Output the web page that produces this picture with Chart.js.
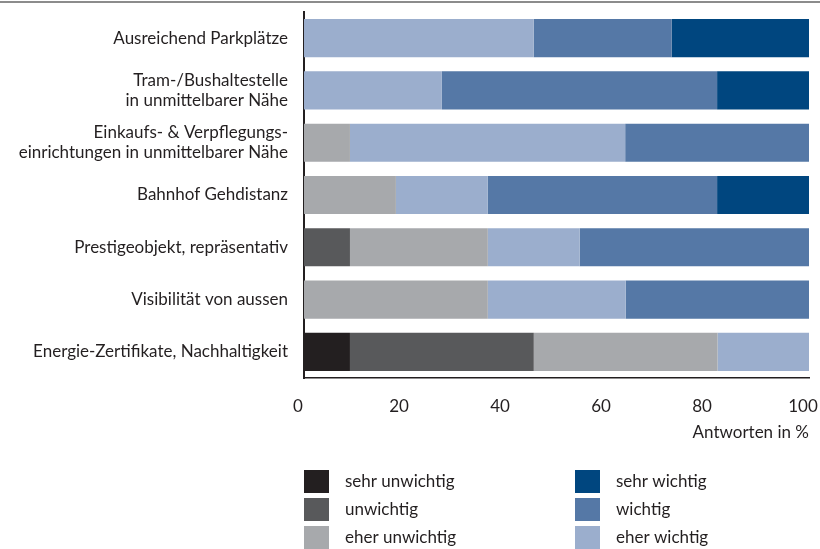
<!DOCTYPE html>
<html>
<head>
<meta charset="utf-8">
<script src="https://cdn.jsdelivr.net/npm/chart.js@4"></script>
<style>
  body { margin: 0; background: #fff; }
  #wrap { width: 820px; height: 549px; }
</style>
</head>
<body>
<div id="wrap"><canvas id="myChart" width="820" height="549"></canvas></div>
<script>
// Daten (Antworten in %, n = 11)
const categories = [
    'Ausreichend Parkplätze',
    ['Tram-/Bushaltestelle', 'in unmittelbarer Nähe'],
    ['Einkaufs- & Verpflegungs-', 'einrichtungen in unmittelbarer Nähe'],
    'Bahnhof Gehdistanz',
    'Prestigeobjekt, repräsentativ',
    'Visibilität von aussen',
    'Energie-Zertifikate, Nachhaltigkeit'
]
const sehrUnwichtig = [0, 0, 0, 0, 0, 0, 9.1]
const unwichtig     = [0, 0, 0, 0, 9.1, 0, 36.4]
const eherUnwichtig = [0, 0, 9.1, 18.2, 27.3, 36.4, 36.4]
const eherWichtig   = [45.5, 27.3, 54.5, 18.2, 18.2, 27.3, 18.1]
const wichtig       = [27.3, 54.5, 36.4, 45.4, 45.4, 36.3, 0]
const sehrWichtig   = [27.2, 18.2, 0, 18.2, 0, 0, 0]
const xTicks = [0, 20, 40, 60, 80, 100]

const textColor = '#231f20'
const fontFamily = 'Lato, "Open Sans", sans-serif'

const datasets = [
    { label: 'sehr unwichtig', data: sehrUnwichtig, backgroundColor: '#231f20' },
    { label: 'unwichtig', data: unwichtig, backgroundColor: '#58595b' },
    { label: 'eher unwichtig', data: eherUnwichtig, backgroundColor: '#a7a9ac' },
    { label: 'eher wichtig', data: eherWichtig, backgroundColor: '#9baecd' },
    { label: 'wichtig', data: wichtig, backgroundColor: '#5578a6' },
    { label: 'sehr wichtig', data: sehrWichtig, backgroundColor: '#00467f' }
]

// legend: two columns, three rows
const legendColumns = [
    ['sehr unwichtig', 'unwichtig', 'eher unwichtig'],
    ['sehr wichtig', 'wichtig', 'eher wichtig']
]

const boxLegend = {
    id: 'boxLegend',
    beforeDraw(chart) {
        const c = chart.ctx
        c.save()
        c.fillStyle = '#8c8c8c'
        c.fillRect(0, 1, chart.width, 2)
        c.restore()
    },
    afterDraw(chart) {
        const c = chart.ctx
        const colX = [304, 575]
        c.save()
        c.font = '17px ' + fontFamily
        c.textBaseline = 'middle'
        c.textAlign = 'left'
        legendColumns.forEach((col, ci) => {
            col.forEach((name, ri) => {
                const ds = chart.data.datasets.find(d => d.label === name)
                const y = 470 + ri * 28
                c.fillStyle = ds.backgroundColor
                c.fillRect(colX[ci], y, 25, 23)
                c.fillStyle = textColor
                c.fillText(name, colX[ci] + 41, y + 12)
            })
        })
        c.restore()
    }
}

const ctx = document.getElementById('myChart')

new Chart(ctx, {
    type: 'bar',
    data: {
        labels: categories,
        datasets: datasets.map(d => Object.assign({
            borderWidth: 0,
            barPercentage: 0.73,
            categoryPercentage: 1
        }, d))
    },
    options: {
        indexAxis: 'y',
        responsive: false,
        animation: false,
        layout: {
            padding: { top: 12, right: 11, bottom: 96, left: 0 }
        },
        plugins: {
            legend: { display: false },
            tooltip: { enabled: false }
        },
        scales: {
            x: {
                stacked: true,
                min: 0,
                max: 100,
                afterBuildTicks: (scale) => {
                    scale.ticks = xTicks.map(v => ({ value: v }))
                },
                afterFit: (scale) => {
                    scale.height = 75
                    scale.paddingLeft = 0
                    scale.paddingRight = 0
                },
                grid: { display: false },
                border: { display: true, color: '#231f20', width: 1.5 },
                ticks: {
                    color: textColor,
                    padding: 10,
                    labelOffset: -6,
                    maxRotation: 0,
                    font: { family: fontFamily, size: 17 }
                },
                title: {
                    display: true,
                    text: 'Antworten in %',
                    align: 'end',
                    color: textColor,
                    padding: { top: 0, bottom: 10 },
                    font: { family: fontFamily, size: 17 }
                }
            },
            y: {
                stacked: true,
                afterFit: (scale) => {
                    scale.width = 304
                    scale.paddingTop = 0
                    scale.paddingBottom = 0
                },
                grid: { display: false },
                border: { display: true, color: '#231f20', width: 2 },
                ticks: {
                    color: textColor,
                    padding: 8,
                    font: { family: fontFamily, size: 17, lineHeight: 1.18 }
                }
            }
        }
    },
    plugins: [boxLegend]
})
</script>
</body>
</html>
